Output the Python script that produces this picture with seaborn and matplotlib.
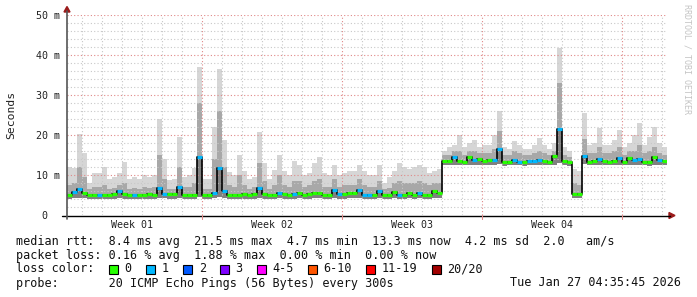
import numpy as np
import matplotlib
matplotlib.use("Agg")
import matplotlib.pyplot as plt
import seaborn as sns
from matplotlib.patches import Rectangle, Polygon
from matplotlib.lines import Line2D

# ---------------- data (ms, one sample per 6 hours over 30 days) ----------------
median_ms = [
    4.9, 5.8, 6.5, 5.5, 5.0, 5.0, 5.1, 4.9, 4.9, 5.2, 6.0, 5.2, 5.0, 5.0, 5.0, 5.0, 5.3, 5.0, 6.8, 5.3,
    5.2, 5.2, 7.0, 5.0, 4.9, 5.0, 14.5, 5.0, 5.0, 5.6, 11.8, 6.0, 5.1, 5.1, 5.1, 5.2, 5.1, 5.2, 6.8, 5.2,
    5.0, 5.1, 5.4, 5.2, 5.0, 5.2, 5.6, 4.9, 5.3, 5.4, 5.4, 5.0, 5.0, 6.3, 5.3, 5.2, 5.4, 5.6, 6.3, 5.1,
    5.1, 5.1, 5.9, 4.9, 4.9, 5.7, 5.1, 5.1, 5.4, 5.1, 5.5, 5.1, 5.1, 5.9, 5.4, 13.5, 13.4, 14.6, 13.4, 13.3,
    14.5, 13.8, 13.9, 13.6, 13.7, 13.8, 16.5, 13.2, 13.3, 13.8, 13.3, 13.2, 13.4, 13.5, 13.7, 13.6, 13.3, 14.8, 21.5, 13.6,
    13.2, 5.2, 5.3, 14.8, 13.3, 13.5, 14.0, 13.6, 13.3, 13.4, 14.2, 13.3, 14.3, 13.7, 14.0, 13.3, 13.2, 14.5, 13.8, 13.5,
]
smoke_hi = [
    12.0, 11.7, 20.2, 15.5, 8.0, 10.4, 10.5, 12.0, 9.0, 9.5, 10.5, 13.3, 9.0, 9.5, 9.0, 10.0, 9.5, 10.0, 24.0, 14.0,
    8.7, 9.0, 19.6, 9.6, 10.0, 11.7, 37.0, 9.0, 9.0, 22.0, 36.5, 18.8, 10.8, 10.0, 15.0, 11.0, 9.0, 9.5, 20.8, 13.0,
    9.0, 11.2, 15.0, 11.0, 10.0, 13.5, 12.5, 10.0, 10.5, 13.0, 14.6, 10.5, 10.0, 12.5, 10.0, 10.5, 11.0, 11.0, 12.5, 11.0,
    10.0, 10.0, 12.5, 8.0, 9.5, 11.0, 13.0, 12.0, 11.5, 12.0, 12.5, 12.0, 10.5, 11.0, 11.5, 16.0, 17.0, 17.5, 20.0, 17.0,
    18.0, 18.7, 17.0, 17.5, 17.5, 20.0, 26.0, 17.0, 16.5, 18.5, 17.5, 16.5, 16.5, 17.5, 19.2, 17.5, 16.5, 18.0, 41.7, 17.0,
    16.0, 11.5, 11.0, 25.5, 17.5, 18.0, 21.7, 17.5, 17.5, 18.7, 21.2, 17.0, 18.0, 20.0, 22.9, 17.5, 19.6, 21.9, 18.0, 17.0,
]
smoke_mid = [
    7.5, 8.0, 12.0, 9.5, 6.5, 7.0, 7.0, 7.5, 6.5, 6.8, 7.5, 8.0, 6.5, 6.8, 6.5, 7.0, 6.8, 7.0, 15.0, 9.0,
    6.5, 6.5, 12.0, 7.0, 7.0, 8.0, 28.0, 6.5, 6.5, 14.0, 26.0, 12.0, 7.5, 7.0, 10.0, 7.5, 6.5, 7.0, 13.0, 8.5,
    6.5, 7.5, 10.0, 7.5, 7.0, 8.5, 8.5, 7.0, 7.5, 8.5, 9.0, 7.0, 7.0, 9.0, 7.0, 7.5, 7.5, 7.5, 9.0, 7.5,
    7.0, 7.0, 8.5, 6.5, 6.8, 8.0, 8.5, 8.0, 8.0, 8.0, 8.5, 8.0, 7.5, 8.0, 8.0, 15.0, 15.0, 16.0, 16.0, 15.0,
    16.0, 16.0, 15.5, 15.5, 15.5, 16.5, 21.0, 15.0, 15.0, 16.0, 15.5, 15.0, 15.0, 15.5, 16.0, 15.5, 15.0, 16.0, 33.0, 15.0,
    14.5, 8.0, 7.5, 19.0, 15.5, 15.5, 17.0, 15.5, 15.5, 16.0, 17.0, 15.0, 16.0, 16.0, 17.5, 15.5, 16.0, 17.0, 15.5, 15.0,
]
smoke_lo = [
    4.1, 4.2, 4.3, 4.2, 4.1, 4.1, 4.1, 4.0, 4.0, 4.1, 4.2, 4.1, 4.1, 4.1, 4.1, 4.1, 4.1, 4.1, 4.3, 4.2,
    4.1, 4.1, 4.3, 4.1, 4.0, 4.1, 4.6, 4.1, 4.1, 4.3, 4.6, 4.3, 4.1, 4.1, 4.1, 4.1, 4.1, 4.1, 4.3, 4.1,
    4.1, 4.1, 4.2, 4.1, 4.1, 4.1, 4.2, 4.0, 4.1, 4.2, 4.2, 4.1, 4.1, 4.2, 4.1, 4.1, 4.2, 4.2, 4.2, 4.1,
    4.1, 4.1, 4.2, 4.0, 4.0, 4.2, 4.1, 4.1, 4.2, 4.1, 4.2, 4.1, 4.1, 4.2, 4.2, 12.4, 12.4, 12.6, 12.4, 12.4,
    12.6, 12.5, 12.5, 12.4, 12.5, 12.5, 12.8, 12.3, 12.4, 12.5, 12.4, 12.3, 12.4, 12.4, 12.5, 12.5, 12.4, 12.6, 13.0, 12.5,
    12.3, 4.3, 4.3, 12.7, 12.4, 12.4, 12.6, 12.5, 12.4, 12.4, 12.6, 12.4, 12.6, 12.5, 12.6, 12.4, 12.3, 12.6, 12.5, 12.4,
]
loss_count = [
    0, 1, 1, 0, 0, 0, 1, 0, 0, 0, 1, 0, 0, 1, 0, 0, 0, 0, 1, 1,
    0, 0, 1, 0, 0, 0, 1, 0, 0, 1, 1, 1, 0, 0, 0, 0, 0, 0, 1, 0,
    0, 0, 1, 0, 0, 1, 0, 0, 0, 0, 0, 0, 0, 1, 1, 0, 0, 0, 1, 1,
    1, 0, 1, 0, 0, 0, 1, 0, 0, 0, 1, 0, 0, 0, 0, 0, 0, 1, 0, 0,
    0, 1, 0, 0, 0, 1, 1, 0, 0, 1, 1, 0, 1, 1, 1, 0, 0, 0, 1, 0,
    0, 0, 0, 1, 0, 0, 1, 0, 0, 0, 1, 0, 0, 1, 1, 0, 0, 0, 1, 0,
]
sample_days = 0.25          # each sample spans 6 hours
week_labels = ["Week 01", "Week 02", "Week 03", "Week 04"]
y_ticks = [0, 10, 20, 30, 40, 50]
y_tick_labels = ["0  ", "10 m", "20 m", "30 m", "40 m", "50 m"]

loss_legend = ["0", "1", "2", "3", "4-5", "6-10", "11-19", "20/20"]
loss_colors = ["#26ff00", "#00b8ff", "#0059ff", "#7e00ff", "#ff00ff", "#ff5500", "#ff0000", "#a10000"]

legend_lines = [
    "median rtt:  8.4 ms avg  21.5 ms max  4.7 ms min  13.3 ms now  4.2 ms sd  2.0   am/s",
    "packet loss: 0.16 % avg  1.88 % max  0.00 % min  0.00 % now",
    "loss color:",
    "probe:       20 ICMP Echo Pings (56 Bytes) every 300s",
]
date_text = "Tue Jan 27 04:35:45 2026"

# ---------------- figure ----------------
sns.set_style("white")
plt.rcParams["font.family"] = ["DejaVu Sans Mono", "DejaVu Sans"]

W, H = 697, 297
fig = plt.figure(figsize=(W / 100, H / 100), dpi=100, facecolor="white")
ax = fig.add_axes([67 / W, (H - 215) / H, 600 / W, 200 / H])
ax.set_facecolor("white")

n = len(median_ms)
t_edges = np.arange(n + 1) * sample_days
def ext(a):
    a = np.asarray(a, dtype=float)
    return np.append(a, a[-1])

# smoke
ax.fill_between(t_edges, ext(smoke_lo), ext(smoke_hi), step="post", color="#d6d6d6", lw=0, zorder=1)
ax.fill_between(t_edges, ext(smoke_lo), ext(smoke_mid), step="post", color="#a8a8a8", lw=0, zorder=2)
ax.fill_between(t_edges, ext(smoke_lo), ext(median_ms), step="post", color="#808080", lw=0, zorder=3)

# grid
day_lines = np.arange(0.75, 30, 1.0)
week_lines = np.arange(6.75, 30, 7.0)
for d in day_lines:
    if not np.any(np.isclose(d, week_lines)):
        ax.axvline(d, color="#c8c8c8", lw=0.8, ls=(0, (1, 2)), zorder=4)
for w in week_lines:
    ax.axvline(w, color="#e08888", lw=0.8, ls=(0, (1, 2)), zorder=4)
for yv in np.arange(2, 51, 2):
    if yv % 10 == 0:
        ax.axhline(yv, color="#e08888", lw=0.8, ls=(0, (1, 2)), zorder=4)
    else:
        ax.axhline(yv, color="#c8c8c8", lw=0.8, ls=(0, (1, 2)), zorder=4)

# median black step line through seaborn
sns.lineplot(x=t_edges, y=ext(median_ms), drawstyle="steps-post", color="black",
             lw=1.2, ax=ax, zorder=5, estimator=None, sort=False)
# colored median segments by loss
seg_colors = [loss_colors[int(c)] for c in loss_count]
ax.hlines(median_ms, t_edges[:-1], t_edges[1:], colors=seg_colors, lw=2.3, zorder=6)

ax.set_xlim(0, 30)
ax.set_ylim(0, 50)
for s in ax.spines.values():
    s.set_visible(False)
ax.set_yticks(y_ticks)
ax.set_yticklabels(y_tick_labels, fontsize=7.2, color="#222222")
ax.tick_params(axis="y", length=0, pad=4.8)
ax.set_xticks(week_lines - 3.5)
ax.set_xticklabels(week_labels, fontsize=7.2, color="#222222")
ax.tick_params(axis="x", length=0, pad=3.5)
ax.set_xlabel("")
ax.set_ylabel("")

# axes lines and arrows (figure pixel coordinates)
def px(x, y):
    return (x / W, 1 - y / H)

fig.add_artist(Line2D([62 / W, 670 / W], [1 - 215.5 / H, 1 - 215.5 / H], color="black", lw=1.0))
fig.add_artist(Line2D([67 / W, 67 / W], [1 - 219 / H, 1 - 11 / H], color="#555555", lw=1.2))
fig.add_artist(Polygon([px(64, 12), px(70, 12), px(67, 6.5)], closed=True, color="#9b1b1b"))
fig.add_artist(Polygon([px(669, 212.5), px(669, 218.5), px(675, 215.5)], closed=True, color="#9b1b1b"))
for w in week_lines:
    xw = 67 + 20 * w
    fig.add_artist(Line2D([xw / W, xw / W], [1 - 215 / H, 1 - 219 / H], color="#e08888", lw=0.8))

# y label and watermark
fig.text(11 / W, 1 - 115 / H, "Seconds", rotation=90, fontsize=8.2, ha="center", va="center", color="#222222")
fig.text(687 / W, 1 - 4 / H, "RRDTOOL / TOBI OETIKER", rotation=270, fontsize=6, ha="center", va="top",
         color="#c4c4c4")

# legend block
x0 = 16
cw = 0.602 * 8.5 * 100 / 72
rows_y = [241, 255, 269, 283]
for s, yy in zip(legend_lines, rows_y):
    fig.text(x0 / W, 1 - yy / H, s, fontsize=8.5, ha="left", va="center", color="#111111")
fig.text(681 / W, 1 - 283 / H, date_text, fontsize=8.5, ha="right", va="center", color="#111111")

c = 13.1
for lab, col in zip(loss_legend, loss_colors):
    sx = x0 + c * cw
    fig.add_artist(Rectangle((sx / W, 1 - 274 / H), 9 / W, 9 / H, facecolor=col, edgecolor="black", lw=0.8))
    lx = c + 2.2
    fig.text((x0 + lx * cw) / W, 1 - 269 / H, lab, fontsize=8.5, ha="left", va="center", color="#111111")
    c = lx + len(lab) + 2.0

fig.savefig("out.png", dpi=100, facecolor="white")
